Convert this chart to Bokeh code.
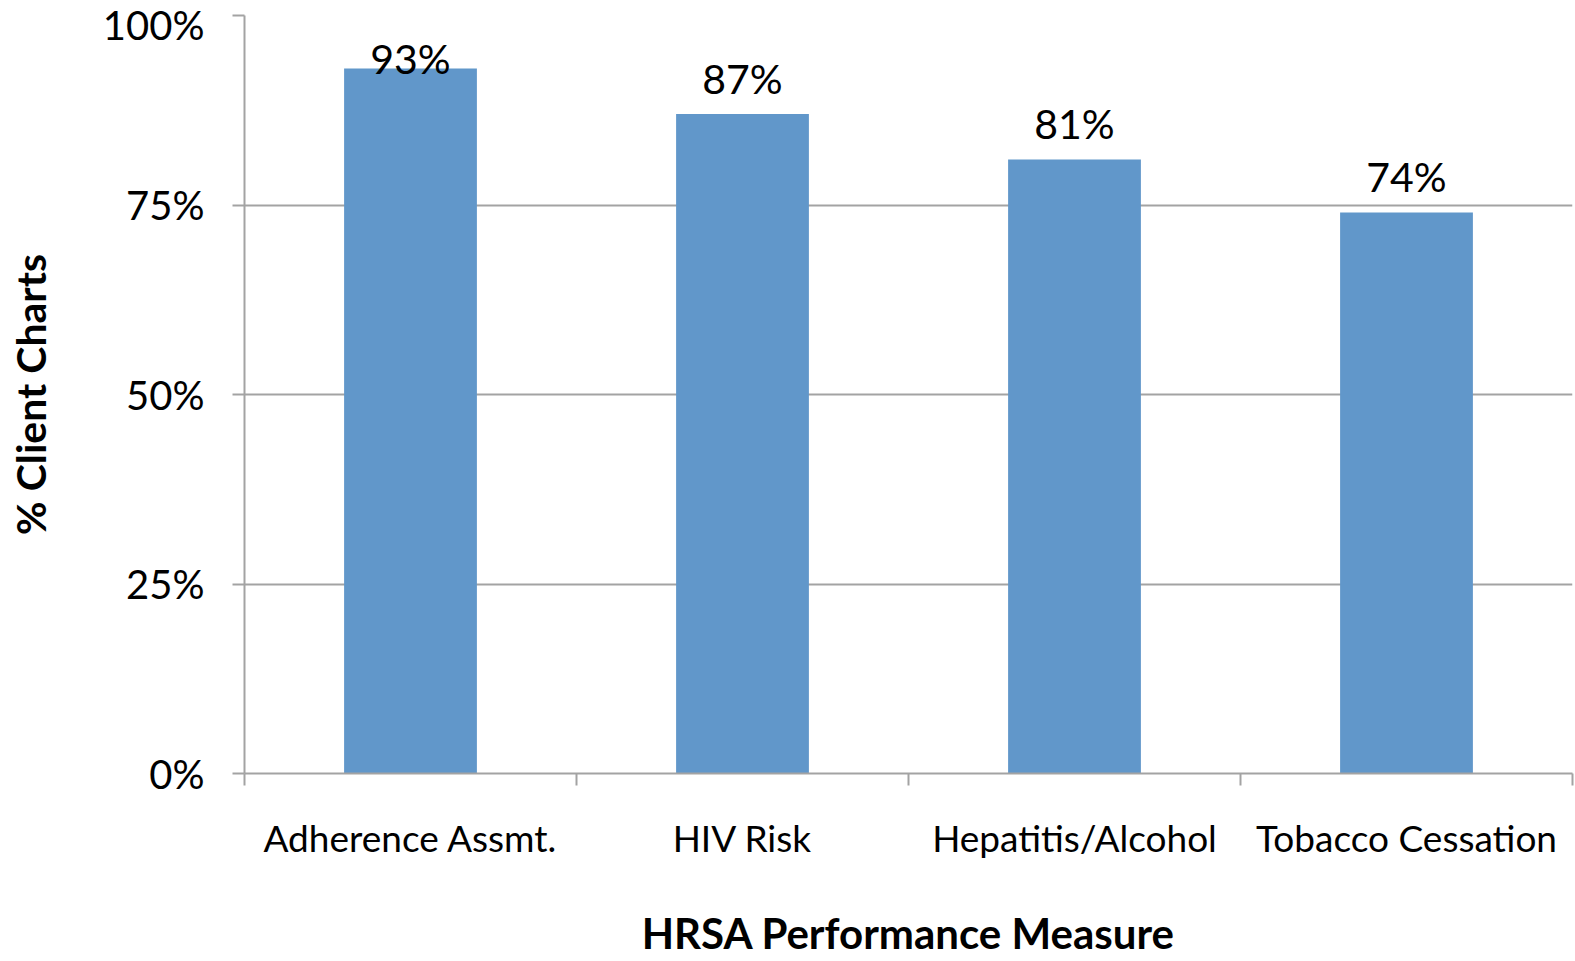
import numpy as np
from bokeh.plotting import figure
from bokeh.models import Range1d, FixedTicker, NumeralTickFormatter, ColumnDataSource
from bokeh.embed import file_html
from bokeh.resources import INLINE
from bokeh.core.properties import value

categories = ["Adherence Assmt.", "HIV Risk", "Hepatitis/Alcohol", "Tobacco Cessation"]
values = [0.93, 0.87, 0.81, 0.74]
y_ticks = [0, 0.25, 0.5, 0.75, 1.0]

FONT = "Lato"
GRID = "#A3A3A3"
BAR = "#6197CA"

n = len(categories)
xc = np.arange(n) + 0.5
vals = np.array(values)
label_y = np.minimum(vals + 0.047, 0.943)
labels = [f"{round(v*100)}%" for v in values]

src = ColumnDataSource(dict(x=xc, top=vals, ly=label_y, lab=labels))

p = figure(width=1574, height=960, output_backend="svg", toolbar_location=None,
           x_range=Range1d(0, n), y_range=Range1d(0, 1.0),
           min_border_left=244, min_border_right=2, min_border_top=15, min_border_bottom=187)
p.outline_line_color = None
p.background_fill_color = "white"
p.border_fill_color = "white"

p.vbar(x="x", top="top", width=0.4, bottom=0, source=src, fill_color=BAR, line_color=None)
p.text(x="x", y="ly", text="lab", source=src, text_align="center", text_baseline="middle",
       text_font=value(FONT), text_font_size="41px", text_color="black")

# x axis
p.xaxis.ticker = FixedTicker(ticks=list(xc), minor_ticks=list(range(n + 1)))
p.xaxis.major_label_overrides = {float(x): c for x, c in zip(xc, categories)}
p.xaxis.major_tick_out = 0
p.xaxis.major_tick_in = 0
p.xaxis.minor_tick_out = 12
p.xaxis.minor_tick_in = 0
p.xaxis.minor_tick_line_color = GRID
p.xaxis.minor_tick_line_width = 2
p.xaxis.axis_line_color = GRID
p.xaxis.axis_line_width = 2
p.xaxis.major_label_standoff = 29
p.xaxis.major_label_text_font = FONT
p.xaxis.major_label_text_font_size = "37px"
p.xaxis.major_label_text_color = "black"
p.xaxis.axis_label = "HRSA Performance Measure"
p.xaxis.axis_label_text_font = FONT
p.xaxis.axis_label_text_font_size = "42px"
p.xaxis.axis_label_text_font_style = "bold"
p.xaxis.axis_label_text_color = "black"
p.xaxis.axis_label_standoff = 45
p.xgrid.grid_line_color = None

# y axis
p.yaxis.ticker = FixedTicker(ticks=y_ticks)
p.yaxis.formatter = NumeralTickFormatter(format="0%")
p.yaxis.major_tick_out = 12
p.yaxis.major_tick_in = 0
p.yaxis.minor_tick_line_color = None
p.yaxis.major_tick_line_color = GRID
p.yaxis.major_tick_line_width = 2
p.yaxis.axis_line_color = GRID
p.yaxis.axis_line_width = 2
p.yaxis.major_label_standoff = 28
p.yaxis.major_label_text_font = FONT
p.yaxis.major_label_text_font_size = "40px"
p.yaxis.major_label_text_color = "black"
p.yaxis.axis_label = "% Client Charts"
p.yaxis.axis_label_text_font = FONT
p.yaxis.axis_label_text_font_size = "41px"
p.yaxis.axis_label_text_font_style = "bold"
p.yaxis.axis_label_text_color = "black"
p.yaxis.axis_label_standoff = 45
p.ygrid.ticker = FixedTicker(ticks=y_ticks)
p.ygrid.grid_line_color = GRID
p.ygrid.grid_line_width = 2

open("out.html", "w").write(file_html(p, INLINE))
